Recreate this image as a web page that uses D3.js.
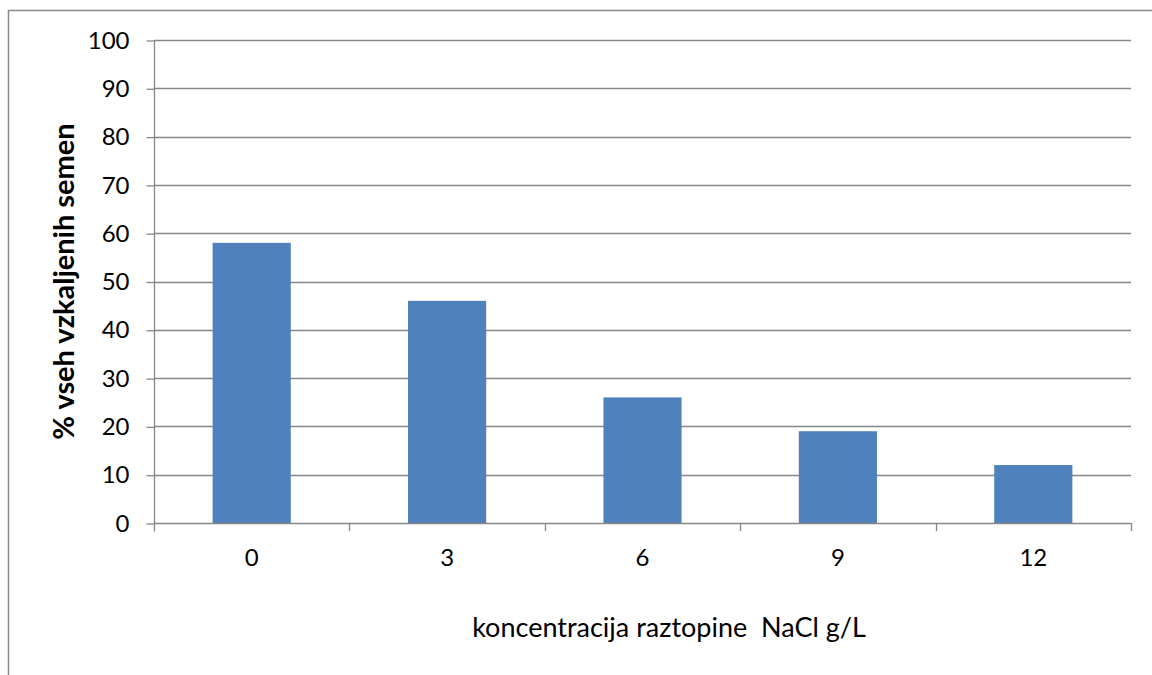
<!DOCTYPE html>
<html>
<head>
<meta charset="utf-8">
<script src="https://cdn.jsdelivr.net/npm/d3@7"></script>
<style>
  html, body { margin: 0; padding: 0; background: #fff; }
  svg { display: block; }
  text { font-family: Lato, "Open Sans", sans-serif; fill: #000; }
</style>
</head>
<body>
<svg id="chart" width="1152" height="675"></svg>
<script>
// NaCl concentration (g/L) and share of germinated seeds (%)
const categories = ["0", "3", "6", "9", "12"];
const germinated = [58, 46, 26, 19, 12];
const yTicks = [0, 10, 20, 30, 40, 50, 60, 70, 80, 90, 100];
const xTitle = "koncentracija raztopine\u00a0\u00a0NaCl g/L";
const yTitle = "% vseh vzkaljenih semen";

const svg = d3.select("#chart");
const W = 1152, H = 675;
const plot = { left: 154, right: 1131, top: 40, bottom: 523 };
const gridColor = "#878787";

// outer chart frame
svg.append("path")
  .attr("d", `M8.5,${H} V10.5 H${W}`)
  .attr("fill", "none")
  .attr("stroke", "#888")
  .attr("stroke-width", 1.5);

const x = d3.scaleBand()
  .domain(categories)
  .range([plot.left, plot.right])
  .paddingInner(0.6)
  .paddingOuter(0.3);

const y = d3.scaleLinear()
  .domain([0, 100])
  .range([plot.bottom, plot.top]);

// horizontal gridlines
svg.append("g")
  .selectAll("line")
  .data(yTicks.filter(d => d > 0))
  .join("line")
  .attr("x1", plot.left)
  .attr("x2", plot.right)
  .attr("y1", d => Math.round(y(d)) + 0.5)
  .attr("y2", d => Math.round(y(d)) + 0.5)
  .attr("stroke", gridColor)
  .attr("stroke-width", 1.3);

// bars
svg.append("g")
  .selectAll("rect")
  .data(germinated)
  .join("rect")
  .attr("x", (d, i) => x(categories[i]))
  .attr("width", x.bandwidth())
  .attr("y", d => y(d))
  .attr("height", d => y(0) - y(d))
  .attr("fill", "#4f81bd");

// y axis
const yAxis = d3.axisLeft(y)
  .tickValues(yTicks)
  .tickSize(8)
  .tickPadding(17)
  .tickFormat(d3.format("d"));

const gy = svg.append("g")
  .attr("transform", `translate(${plot.left + 0.5},0.5)`)
  .call(yAxis);
gy.select(".domain")
  .attr("d", `M0,${plot.top} V${plot.bottom + 8}`)
  .attr("stroke", gridColor)
  .attr("stroke-width", 1.3);
gy.selectAll(".tick line").attr("stroke", gridColor).attr("stroke-width", 1.3);
gy.selectAll(".tick text")
  .attr("font-size", 24)
  .style("font-family", "Lato, sans-serif")
  .attr("fill", "#000");

// x axis: baseline plus ticks at category boundaries
const gx = svg.append("g");
gx.append("line")
  .attr("x1", plot.left)
  .attr("x2", plot.right)
  .attr("y1", plot.bottom + 0.5)
  .attr("y2", plot.bottom + 0.5)
  .attr("stroke", gridColor)
  .attr("stroke-width", 1.3);

const step = x.step();
const boundaries = categories.map((c, i) => x(c) + x.bandwidth() / 2 + step / 2);
gx.selectAll(".bound")
  .data(boundaries)
  .join("line")
  .attr("class", "bound")
  .attr("x1", d => Math.round(d) + 0.5)
  .attr("x2", d => Math.round(d) + 0.5)
  .attr("y1", plot.bottom)
  .attr("y2", plot.bottom + 8)
  .attr("stroke", gridColor)
  .attr("stroke-width", 1.3);

gx.selectAll(".lbl")
  .data(categories)
  .join("text")
  .attr("class", "lbl")
  .attr("x", d => x(d) + x.bandwidth() / 2)
  .attr("y", 566)
  .attr("text-anchor", "middle")
  .attr("font-size", 24)
  .text(d => d);

// axis titles
svg.append("text")
  .attr("x", 669)
  .attr("y", 637)
  .attr("text-anchor", "middle")
  .attr("font-size", 27)
  .text(xTitle);

svg.append("text")
  .attr("transform", `translate(74,${(plot.top + plot.bottom) / 2}) rotate(-90)`)
  .attr("text-anchor", "middle")
  .attr("font-size", 29)
  .attr("font-weight", "bold")
  .text(yTitle);
</script>
</body>
</html>
